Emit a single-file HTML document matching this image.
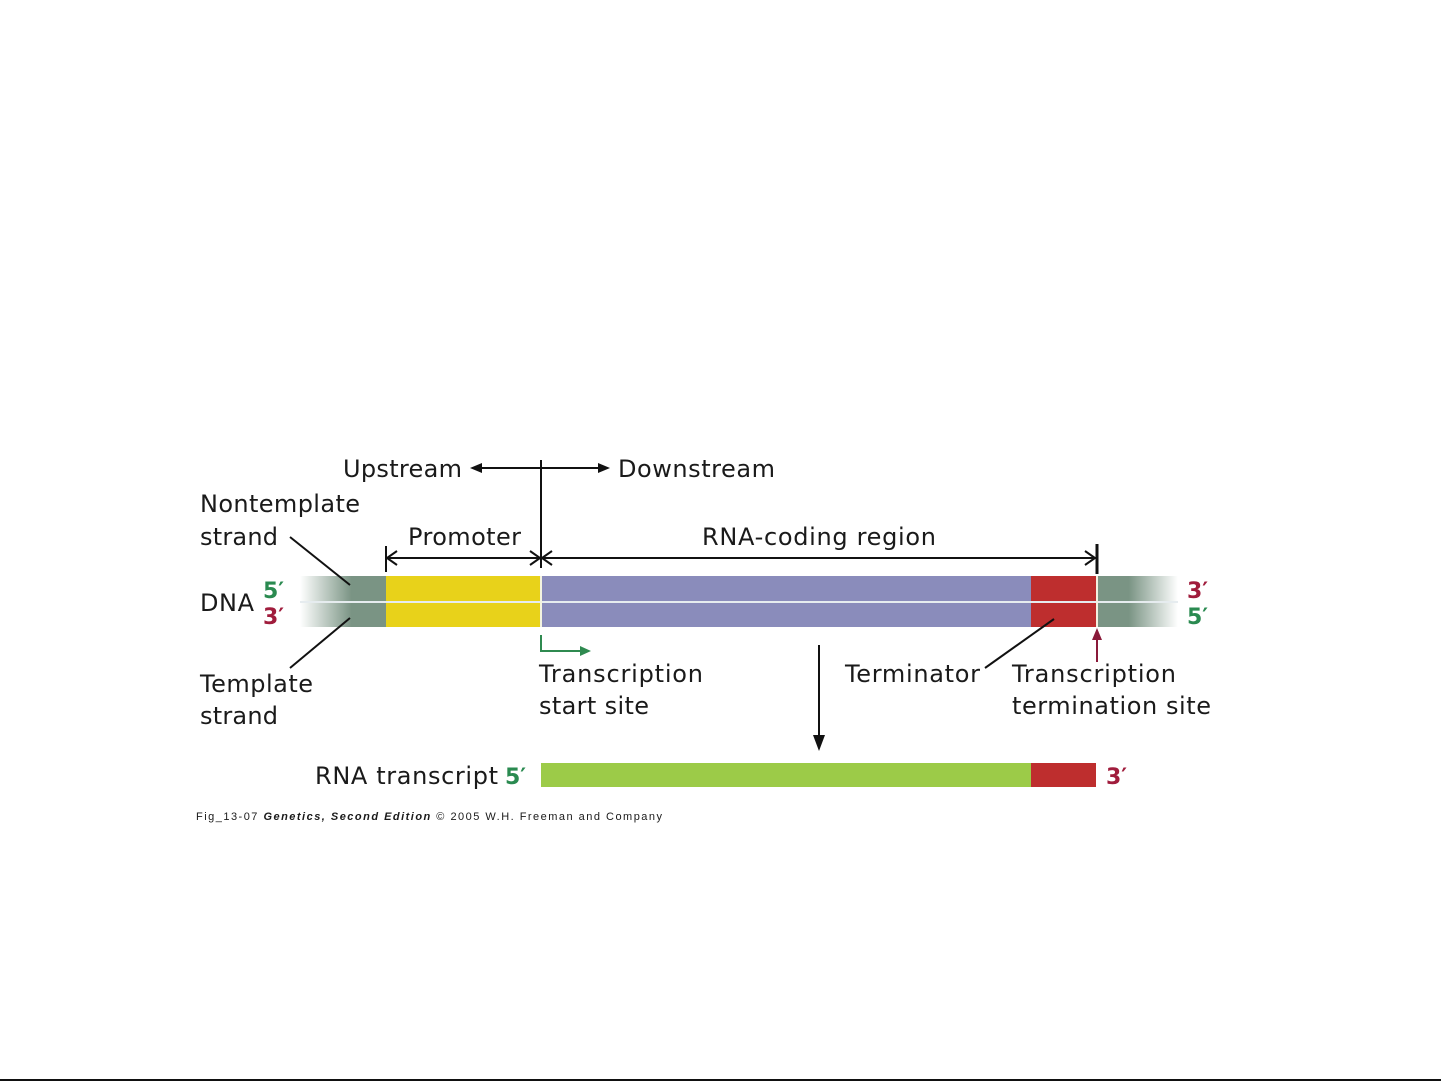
<!DOCTYPE html>
<html><head><meta charset="utf-8"><style>
html,body{margin:0;padding:0;background:#fff;}
svg{display:block;}
text{font-family:"DejaVu Sans","Liberation Sans",sans-serif;fill:#1a1a1a;}
.p{font-weight:bold;}
</style></head><body>
<svg width="1441" height="1081" viewBox="0 0 1441 1081" xmlns="http://www.w3.org/2000/svg">
<defs>
<linearGradient id="gl" x1="0" x2="1"><stop offset="0" stop-color="#7a9484" stop-opacity="0"/><stop offset="0.6" stop-color="#7a9484" stop-opacity="1"/><stop offset="1" stop-color="#7a9484"/></linearGradient>
<linearGradient id="gr" x1="0" x2="1"><stop offset="0" stop-color="#7a9484"/><stop offset="0.4" stop-color="#7a9484"/><stop offset="1" stop-color="#7a9484" stop-opacity="0"/></linearGradient>
</defs>
<rect width="1441" height="1081" fill="#fff"/>
<!-- DNA bar -->
<rect x="300" y="576" width="86" height="51" fill="url(#gl)"/>
<rect x="386" y="576" width="155" height="51" fill="#e8d21a"/>
<rect x="541" y="576" width="490" height="51" fill="#8a8cbb"/>
<rect x="1031" y="576" width="65" height="51" fill="#be2e2e"/>
<rect x="1096" y="576" width="82" height="51" fill="url(#gr)"/>
<line x1="300" y1="602" x2="1178" y2="602" stroke="#e6ecef" stroke-width="2"/>
<line x1="541" y1="576" x2="541" y2="627" stroke="#f4f4e0" stroke-width="2"/>
<line x1="1097" y1="576" x2="1097" y2="627" stroke="#f4f0e0" stroke-width="2"/>
<!-- up/down -->
<line x1="476" y1="468" x2="604" y2="468" stroke="#111" stroke-width="2"/>
<polygon points="470,468 482,463 482,473" fill="#111"/>
<polygon points="610,468 598,463 598,473" fill="#111"/>
<line x1="541" y1="460" x2="541" y2="568" stroke="#111" stroke-width="2"/>
<!-- dimension -->
<line x1="386" y1="558" x2="1096" y2="558" stroke="#111" stroke-width="2"/>
<line x1="386" y1="546" x2="386" y2="572" stroke="#111" stroke-width="2"/>
<line x1="1097" y1="544" x2="1097" y2="574" stroke="#111" stroke-width="3"/>
<polyline points="397,551 387,558 397,565" fill="none" stroke="#111" stroke-width="2"/>
<polyline points="530,551 540,558 530,565" fill="none" stroke="#111" stroke-width="2"/>
<polyline points="552,551 542,558 552,565" fill="none" stroke="#111" stroke-width="2"/>
<polyline points="1085,551 1095,558 1085,565" fill="none" stroke="#111" stroke-width="2"/>
<!-- leaders -->
<line x1="290" y1="537" x2="350" y2="585" stroke="#111" stroke-width="2"/>
<line x1="290" y1="668" x2="350" y2="618" stroke="#111" stroke-width="2"/>
<line x1="985" y1="668" x2="1054" y2="619" stroke="#111" stroke-width="2"/>
<!-- start arrow -->
<polyline points="541,635 541,651 582,651" fill="none" stroke="#2f8a50" stroke-width="2"/>
<polygon points="591,651 580,646 580,656" fill="#2f8a50"/>
<!-- termination arrow -->
<line x1="1097" y1="662" x2="1097" y2="636" stroke="#8a1a3a" stroke-width="2"/>
<polygon points="1097,628 1092,640 1102,640" fill="#8a1a3a"/>
<!-- down arrow -->
<line x1="819" y1="645" x2="819" y2="740" stroke="#111" stroke-width="2"/>
<polygon points="819,751 813,735 825,735" fill="#111"/>
<!-- RNA -->
<rect x="541" y="763" width="490" height="24" fill="#9ccb48"/>
<rect x="1031" y="763" width="65" height="24" fill="#be2e2e"/>
<!-- text -->
<g font-size="24">
<text x="343" y="477" textLength="119">Upstream</text>
<text x="618" y="477" textLength="157">Downstream</text>
<text x="200" y="512" textLength="160">Nontemplate</text>
<text x="200" y="545" textLength="78">strand</text>
<text x="408" y="545" textLength="113">Promoter</text>
<text x="702" y="545" textLength="234">RNA-coding region</text>
<text x="200" y="611" textLength="54">DNA</text>
<text x="539" y="682" textLength="164">Transcription</text>
<text x="539" y="714" textLength="110">start site</text>
<text x="845" y="682" textLength="135">Terminator</text>
<text x="1012" y="682" textLength="164">Transcription</text>
<text x="1012" y="714" textLength="199">termination site</text>
<text x="200" y="692" textLength="113">Template</text>
<text x="200" y="724" textLength="78">strand</text>
<text x="315" y="784" textLength="183">RNA transcript</text>
</g>
<g font-size="22" class="p">
<text x="263" y="598" style="fill:#2a8a50">5′</text>
<text x="263" y="624" style="fill:#a01c3c">3′</text>
<text x="1187" y="598" style="fill:#a01c3c">3′</text>
<text x="1187" y="624" style="fill:#2a8a50">5′</text>
<text x="505" y="784" style="fill:#2a8a50">5′</text>
<text x="1106" y="784" style="fill:#a01c3c">3′</text>
</g>
<text x="196" y="820" font-size="11" textLength="466" style="font-family:'Liberation Sans',sans-serif">Fig_13-07 <tspan font-style="italic" font-weight="bold">Genetics, Second Edition</tspan> © 2005 W.H. Freeman and Company</text>
<line x1="0" y1="1080" x2="1441" y2="1080" stroke="#111" stroke-width="2"/>
</svg>
</body></html>
